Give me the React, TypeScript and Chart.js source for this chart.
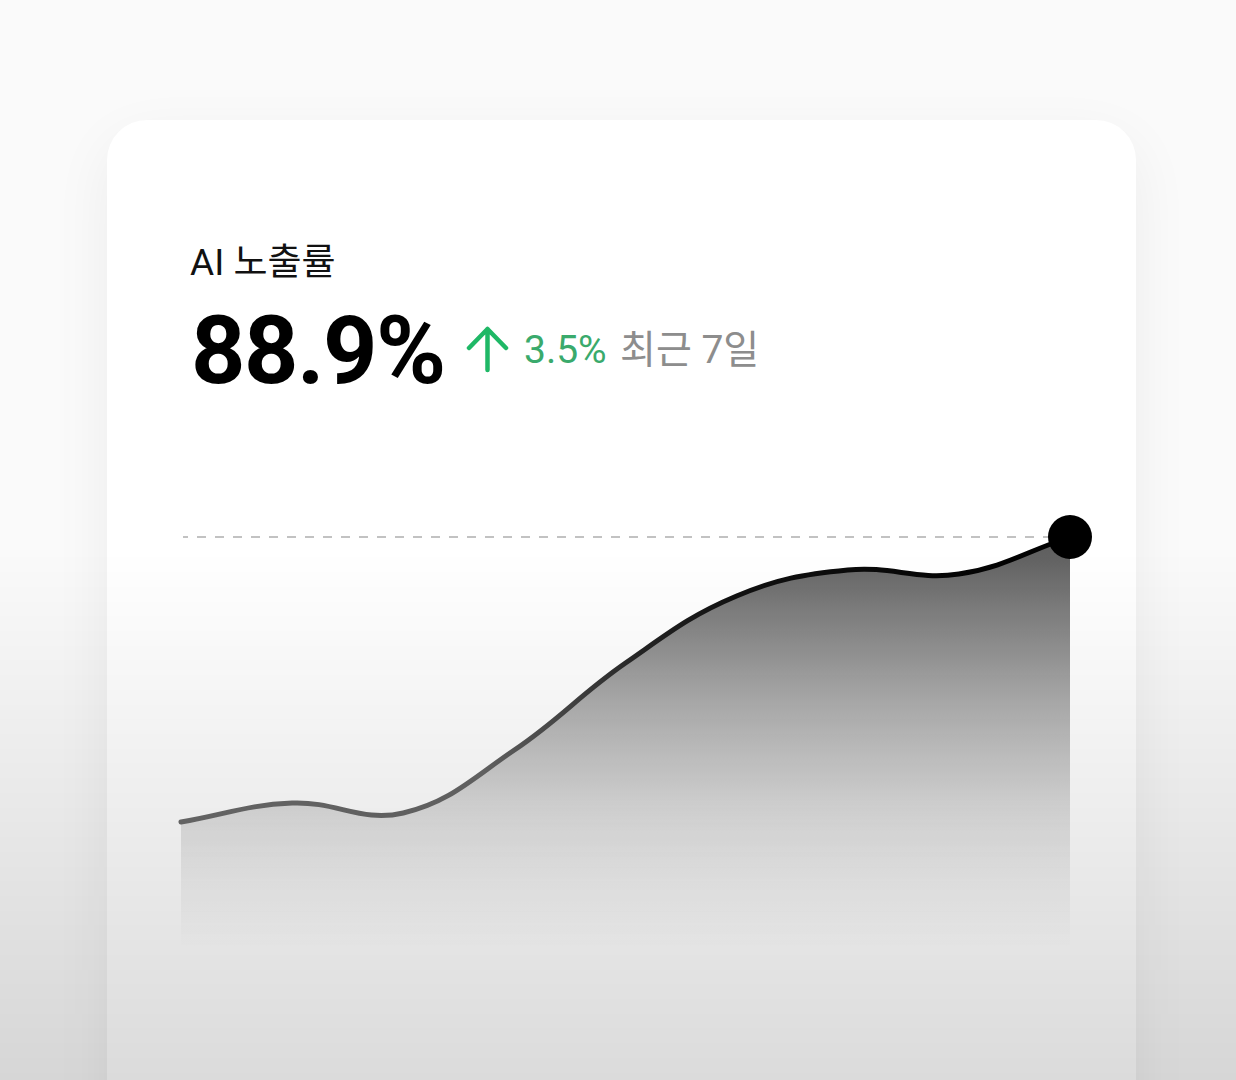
import { useEffect, useRef } from 'react'
import { Chart, registerables, type Plugin } from 'chart.js'

Chart.register(...registerables)

// 9 samples across the last 7 days (left → right)
const days = ['d1', 'd2', 'd3', 'd4', 'd5', 'd6', 'd7', 'd8', 'd9']
const exposure = [74.65, 75.6, 75.1, 78.25, 82.6, 85.95, 87.25, 87.05, 88.9]

const title = 'AI 노출률'
const current = '88.9%'
const change = '3.5%'
const period = '최근 7일'

const FONT = "Roboto, 'Noto Sans CJK KR', sans-serif"

// dashed reference line at the latest value
const targetLine: Plugin<'line'> = {
  id: 'targetLine',
  beforeDatasetsDraw(chart) {
    const { ctx, chartArea, scales } = chart
    const y = scales.y.getPixelForValue(exposure[exposure.length - 1])
    ctx.save()
    ctx.strokeStyle = '#c2c2c2'
    ctx.lineWidth = 2
    ctx.setLineDash([9, 9])
    ctx.lineDashOffset = 4
    ctx.beginPath()
    ctx.moveTo(chartArea.left + 2, y)
    ctx.lineTo(chartArea.right, y)
    ctx.stroke()
    ctx.restore()
  },
}

function ExposureChart() {
  const canvasRef = useRef<HTMLCanvasElement>(null)
  const chartRef = useRef<Chart | null>(null)

  useEffect(() => {
    if (!canvasRef.current) return

    chartRef.current = new Chart(canvasRef.current, {
      type: 'line',
      data: {
        labels: days,
        datasets: [
          {
            data: exposure,
            borderWidth: 5,
            borderCapStyle: 'round',
            tension: 0.4,
            clip: false,
            fill: 'start',
            borderColor: (c) => {
              const { chartArea, ctx } = c.chart
              if (!chartArea) return '#000'
              const g = ctx.createLinearGradient(chartArea.left, 0, chartArea.right, 0)
              g.addColorStop(0, '#6b6b6b')
              g.addColorStop(0.34, '#666666')
              g.addColorStop(0.43, '#474747')
              g.addColorStop(0.52, '#242424')
              g.addColorStop(0.62, '#121212')
              g.addColorStop(1, '#000000')
              return g
            },
            backgroundColor: (c) => {
              const { ctx } = c.chart
              // canvas starts 30px above the plot area (page y 445)
              const g = ctx.createLinearGradient(0, 90, 0, 530)
              g.addColorStop(0, '#5a5a5a')
              g.addColorStop(0.06, '#646464')
              g.addColorStop(0.375, '#adadad')
              g.addColorStop(0.6, '#dadada')
              g.addColorStop(0.69, 'rgba(228,228,228,0.9)')
              g.addColorStop(0.94, 'rgba(235,235,235,0)')
              return g
            },
            pointRadius: exposure.map((_, i) => (i === exposure.length - 1 ? 22 : 0)),
            pointHoverRadius: exposure.map((_, i) => (i === exposure.length - 1 ? 22 : 0)),
            pointBackgroundColor: '#000',
            pointBorderWidth: 0,
          },
        ],
      },
      options: {
        responsive: false,
        maintainAspectRatio: false,
        animation: false,
        events: [],
        layout: { padding: { left: 31, right: 40, top: 30, bottom: 30 } },
        scales: {
          x: { display: false, offset: false },
          y: { display: false, min: 61.75, max: 92 },
        },
        plugins: { legend: { display: false }, tooltip: { enabled: false } },
      },
      plugins: [targetLine],
    })

    return () => { chartRef.current?.destroy(); chartRef.current = null }
  }, [])

  return (
    <canvas
      ref={canvasRef}
      width={960}
      height={665}
      style={{ position: 'absolute', left: 150, top: 445, width: 960, height: 665 }}
    />
  )
}

export default function App() {
  return (
    <div
      style={{
        position: 'fixed', left: 0, top: 0, width: 1236, height: 1080,
        overflow: 'hidden', background: '#fafafa', fontFamily: FONT,
      }}
    >
      <div
        style={{
          position: 'absolute', left: 107, top: 120, width: 1029, height: 1040,
          background: '#fff', borderRadius: 40,
          boxShadow: '0 20px 60px rgba(0,0,0,0.06)',
        }}
      />
      <div style={{ position: 'absolute', left: 190, top: 244, fontSize: 37, lineHeight: 1, color: '#111', whiteSpace: 'nowrap' }}>
        {title}
      </div>
      <div style={{ position: 'absolute', left: 191, top: 303, fontSize: 95, fontWeight: 700, lineHeight: 1, color: '#000', letterSpacing: -1.5, whiteSpace: 'nowrap' }}>
        {current}
      </div>
      <svg width={43} height={47} viewBox="0 0 43 47" style={{ position: 'absolute', left: 466, top: 326 }}>
        <path d="M21.5 3 V44 M3 22 L21.5 3 L40 22" fill="none" stroke="#1fb866" strokeWidth={4.5} strokeLinecap="round" strokeLinejoin="round" />
      </svg>
      <div style={{ position: 'absolute', left: 524, top: 331, fontSize: 39, lineHeight: 1, color: '#3aaa6c', whiteSpace: 'nowrap' }}>
        {change}
      </div>
      <div style={{ position: 'absolute', left: 620, top: 331, fontSize: 39, lineHeight: 1, color: '#8d8d8d', whiteSpace: 'nowrap' }}>
        {period}
      </div>
      <ExposureChart />
      <div
        style={{
          position: 'absolute', left: 0, top: 550, width: 1236, height: 530, pointerEvents: 'none',
          background: 'linear-gradient(to bottom, rgba(0,0,0,0) 0%, rgba(0,0,0,0.14) 100%)',
        }}
      />
    </div>
  )
}
